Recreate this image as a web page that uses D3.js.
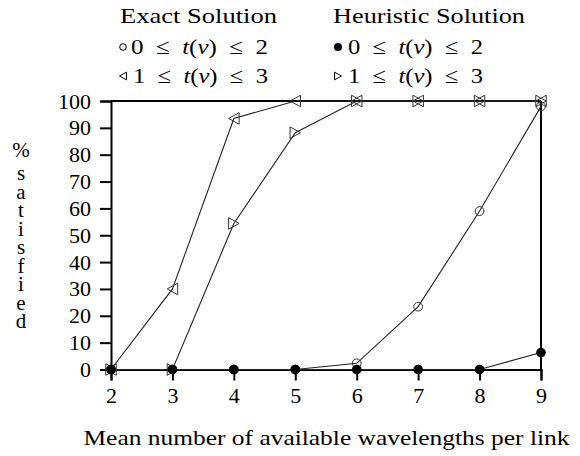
<html>
<head>
<script src="https://d3js.org/d3.v7.min.js"></script>
<style>
  body { margin: 0; background: #fff; }
  text { font-family: "Liberation Serif", "DejaVu Serif", serif; fill: #000; }
</style>
</head>
<body>
<script>
// values
const xValues = [2, 3, 4, 5, 6, 7, 8, 9];
const exactLow = [0, 0, 0, 0, 2.3, 23.4, 59, 98];        // exact, 0 <= t(v) <= 2
const exactHigh = [0, 30, 93.5, 100, 100, 100, 100, 100]; // exact, 1 <= t(v) <= 3
const heurLow = [0, 0, 0, 0, 0, 0, 0, 6.3];               // heuristic, 0 <= t(v) <= 2
const heurHigh = [0, 0, 54.4, 88.2, 100, 100, 100, 100];  // heuristic, 1 <= t(v) <= 3
const yTicks = [0, 10, 20, 30, 40, 50, 60, 70, 80, 90, 100];
const yLabelChars = ["%", "s", "a", "t", "i", "s", "f", "i", "e", "d"];

const w = 580, h = 456;
const svg = d3.select("body").append("svg").attr("width", w).attr("height", h);

const x = d3.scaleLinear().domain([2, 9]).range([111, 541]);
const y = d3.scaleLinear().domain([0, 100]).range([369.5, 101]);

// frame: top and right lines
svg.append("line").attr("x1", x(2)).attr("x2", x(9)).attr("y1", y(100)).attr("y2", y(100))
  .attr("stroke", "#000").attr("stroke-width", 2);
svg.append("line").attr("x1", x(9)).attr("x2", x(9)).attr("y1", y(100)).attr("y2", y(0))
  .attr("stroke", "#000").attr("stroke-width", 2);

const xAxis = svg.append("g").attr("transform", `translate(0,${y(0)})`)
  .call(d3.axisBottom(x).tickValues(xValues).tickFormat(d3.format("d")).tickSize(11).tickPadding(7));
const yAxis = svg.append("g").attr("transform", `translate(${x(2)},0)`)
  .call(d3.axisLeft(y).tickValues(yTicks).tickSize(11).tickPadding(9));

[xAxis, yAxis].forEach(g => {
  g.select(".domain").attr("stroke", "#000").attr("stroke-width", 2);
  g.selectAll(".tick line").attr("stroke", "#000").attr("stroke-width", 2);
  g.selectAll(".tick text").attr("font-family", "Liberation Serif").attr("font-size", 22).attr("fill", "#000");
});

// axis titles
svg.append("text").attr("x", 326.5).attr("y", 445).attr("text-anchor", "middle")
  .attr("font-size", 22).attr("textLength", 486).attr("lengthAdjust", "spacingAndGlyphs")
  .text("Mean number of available wavelengths per link");

const yl = svg.append("text").attr("text-anchor", "middle").attr("font-size", 21);
yl.selectAll("tspan").data(yLabelChars).join("tspan")
  .attr("x", 21).attr("y", (d, i) => i === 0 ? 157 : 180 + (i - 1) * 18.5)
  .text(d => d);

// series
const line = d3.line().x(d => x(d[0])).y(d => y(d[1]));
const series = [
  { vals: exactHigh, mark: "left" },
  { vals: heurHigh, mark: "right" },
  { vals: exactLow, mark: "open" },
  { vals: heurLow, mark: "dot" }
];

function triPath(cx, cy, dir, s) {
  const a = s * 0.5, b = s * 0.55;
  if (dir === "left") return `M${cx - a},${cy}L${cx + a},${cy - b}L${cx + a},${cy + b}Z`;
  return `M${cx + a},${cy}L${cx - a},${cy - b}L${cx - a},${cy + b}Z`;
}

series.forEach(s => {
  const pts = xValues.map((v, i) => [v, s.vals[i]]);
  svg.append("path").attr("d", line(pts)).attr("fill", "none")
    .attr("stroke", "#222").attr("stroke-width", 1.1);
});

series.forEach(s => {
  const pts = xValues.map((v, i) => [v, s.vals[i]]);
  const g = svg.append("g");
  if (s.mark === "left" || s.mark === "right") {
    g.selectAll("path").data(pts).join("path")
      .attr("d", d => triPath(x(d[0]), y(d[1]), s.mark, 10.5))
      .attr("fill", "none").attr("stroke", "#333").attr("stroke-width", 1);
  } else if (s.mark === "open") {
    g.selectAll("circle").data(pts).join("circle")
      .attr("cx", d => x(d[0])).attr("cy", d => y(d[1])).attr("r", 4.4)
      .attr("fill", "none").attr("stroke", "#333").attr("stroke-width", 1);
  } else {
    g.selectAll("circle").data(pts).join("circle")
      .attr("cx", d => x(d[0])).attr("cy", d => y(d[1])).attr("r", 4.8)
      .attr("fill", "#000");
  }
});

// legend
const legend = svg.append("g").attr("font-size", 22);
legend.append("text").attr("x", 120).attr("y", 23).attr("textLength", 157)
  .attr("lengthAdjust", "spacingAndGlyphs").text("Exact Solution");
legend.append("text").attr("x", 333).attr("y", 23).attr("textLength", 192)
  .attr("lengthAdjust", "spacingAndGlyphs").text("Heuristic Solution");

function mathText(xp, yp, lo, hi, len) {
  const t = legend.append("text").attr("x", xp).attr("y", yp)
    .attr("textLength", len).attr("lengthAdjust", "spacingAndGlyphs");
  t.append("tspan").text(lo + "\u2002\u2264\u2002");
  t.append("tspan").attr("font-style", "italic").text("t");
  t.append("tspan").text("(");
  t.append("tspan").attr("font-style", "italic").text("v");
  t.append("tspan").text(")\u2002\u2264\u2002" + hi);
}
legend.append("circle").attr("cx", 123).attr("cy", 47).attr("r", 3.3)
  .attr("fill", "none").attr("stroke", "#000").attr("stroke-width", 1);
mathText(131, 54, "0", "2", 137);
legend.append("path").attr("d", triPath(123, 76, "left", 7)).attr("fill", "none")
  .attr("stroke", "#000").attr("stroke-width", 1);
mathText(133, 83, "1", "3", 135);
legend.append("circle").attr("cx", 338).attr("cy", 47).attr("r", 4).attr("fill", "#000");
mathText(348, 54, "0", "2", 135);
legend.append("path").attr("d", triPath(338, 76, "right", 7)).attr("fill", "none")
  .attr("stroke", "#000").attr("stroke-width", 1);
mathText(348, 83, "1", "3", 135);
</script>
</body>
</html>
